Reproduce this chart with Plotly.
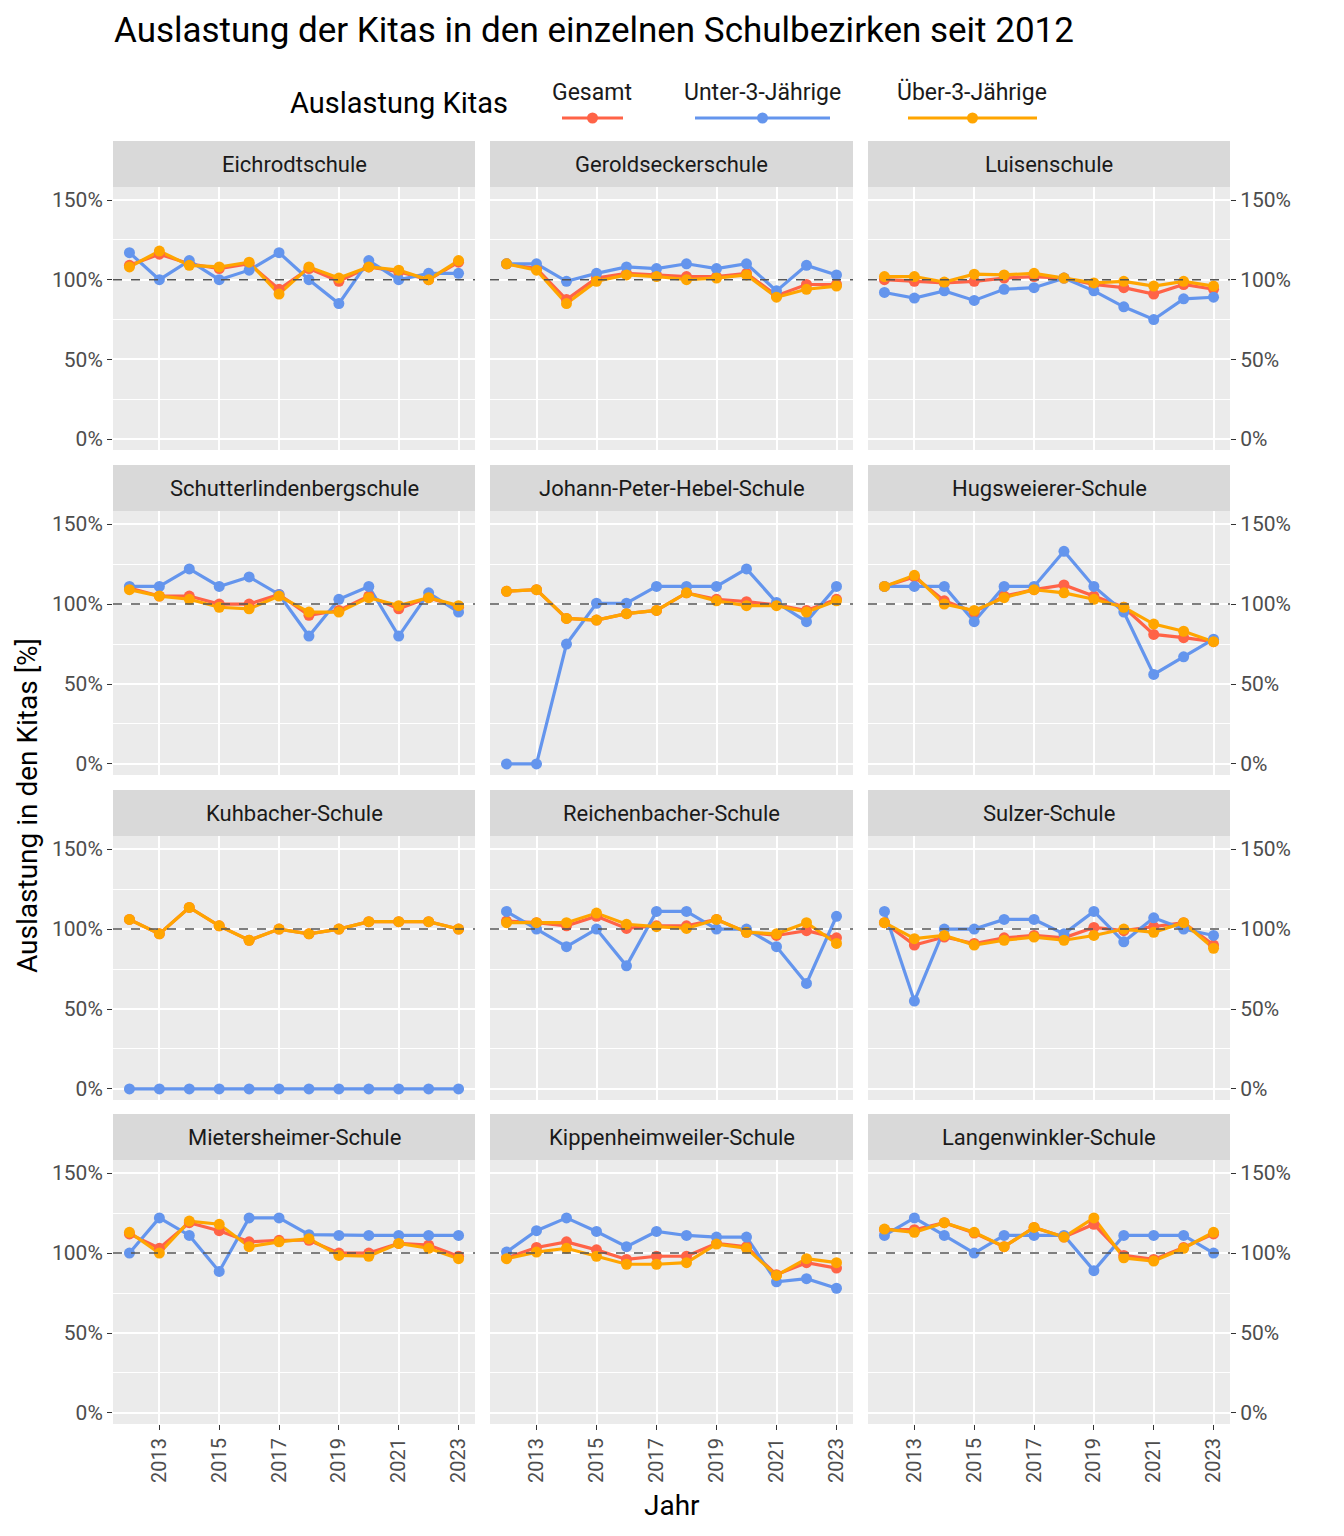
import plotly.graph_objects as go

years = list(range(2012, 2024))

schools = [
    "Eichrodtschule", "Geroldseckerschule", "Luisenschule",
    "Schutterlindenbergschule", "Johann-Peter-Hebel-Schule", "Hugsweierer-Schule",
    "Kuhbacher-Schule", "Reichenbacher-Schule", "Sulzer-Schule",
    "Mietersheimer-Schule", "Kippenheimweiler-Schule", "Langenwinkler-Schule",
]

gesamt = {
    "Eichrodtschule": [109, 116, 110, 107, 110, 94, 107, 99, 108, 105, 100, 111],
    "Geroldseckerschule": [110, 107, 87.5, 101, 104, 103, 102, 102, 104, 90, 97, 97],
    "Luisenschule": [100, 99, 98, 99, 101, 102, 101, 97, 95, 91, 97, 94],
    "Schutterlindenbergschule": [110, 105, 105, 100, 100, 106, 93, 96, 105, 97, 104, 98],
    "Johann-Peter-Hebel-Schule": [108, 109, 91, 90, 94, 96, 107, 103, 101.5, 99.5, 96, 103],
    "Hugsweierer-Schule": [111, 117, 102, 95, 105, 109, 112, 105, 98, 81, 79, 76.5],
    "Kuhbacher-Schule": [106, 97, 113.5, 102, 93, 100, 97, 100, 104.6, 104.6, 104.6, 100],
    "Reichenbacher-Schule": [105, 104, 102, 108, 100.4, 102, 102, 106, 98, 96, 99, 94.5],
    "Sulzer-Schule": [104, 90, 95, 91, 94.5, 96, 94.5, 101, 99, 101.5, 104, 90],
    "Mietersheimer-Schule": [112, 103, 119, 114, 107, 108, 108, 100, 100, 106, 105, 98],
    "Kippenheimweiler-Schule": [97, 103.5, 107, 102, 96, 98, 98, 106, 104, 86.5, 94, 90.6],
    "Langenwinkler-Schule": [114.6, 114.6, 119, 112.5, 104, 116, 110, 118, 98.5, 96, 103.5, 112],
}

unter3 = {
    "Eichrodtschule": [117, 100, 112, 100, 106, 117, 100, 85, 112, 100, 104, 104],
    "Geroldseckerschule": [110, 110, 99, 104, 108, 107, 110, 107, 110, 93, 109, 103],
    "Luisenschule": [92, 88.5, 93, 87, 94, 95, 101, 93, 83, 75, 88, 89],
    "Schutterlindenbergschule": [111, 111, 122, 111, 117, 106, 80, 103, 111, 80, 107, 95],
    "Johann-Peter-Hebel-Schule": [0, 0, 75, 100.5, 100.5, 111, 111, 111, 122, 101, 89, 111],
    "Hugsweierer-Schule": [111, 111, 111, 89, 111, 111, 133, 111, 95, 56, 67, 78],
    "Kuhbacher-Schule": [0, 0, 0, 0, 0, 0, 0, 0, 0, 0, 0, 0],
    "Reichenbacher-Schule": [111, 100, 89, 100, 77, 111, 111, 100, 100, 89, 66, 108],
    "Sulzer-Schule": [111, 55, 100, 100, 106, 106, 97, 111, 92, 107, 100, 96],
    "Mietersheimer-Schule": [100, 122, 111, 88.5, 122, 122, 111.5, 111, 111, 111, 111, 111],
    "Kippenheimweiler-Schule": [100.6, 114, 122, 113.5, 104, 113.5, 111, 110, 110, 82, 84, 78],
    "Langenwinkler-Schule": [111, 122, 111, 100, 111, 111, 111, 89, 111, 111, 111, 100],
}

ueber3 = {
    "Eichrodtschule": [108, 118, 109, 108, 111, 91, 108, 101, 108, 106, 100, 112],
    "Geroldseckerschule": [110, 106, 85, 99, 103, 102, 100, 101, 103, 89, 94, 96],
    "Luisenschule": [102, 102, 98.5, 103.5, 103, 104, 101, 98, 99, 96, 99, 96],
    "Schutterlindenbergschule": [109, 105, 103, 98, 97, 105, 95, 95, 104, 99, 104, 99],
    "Johann-Peter-Hebel-Schule": [108, 109, 91, 90, 94, 96, 107, 102, 99, 99, 95, 102],
    "Hugsweierer-Schule": [111, 118, 100, 96, 104, 109, 107, 103, 98, 87.5, 83, 76.5],
    "Kuhbacher-Schule": [106, 97, 113.5, 102, 93, 100, 97, 100, 104.6, 104.6, 104.6, 100],
    "Reichenbacher-Schule": [104, 104, 104, 110, 103, 101.5, 100.4, 106, 98, 97, 104, 91],
    "Sulzer-Schule": [104, 94, 96, 90, 93, 95, 93, 96, 100, 98, 104, 88],
    "Mietersheimer-Schule": [113, 100, 120, 118, 104, 107, 109, 98.5, 98, 106, 103, 96.5],
    "Kippenheimweiler-Schule": [96.5, 100.6, 103, 98, 93, 93, 94, 105.6, 103, 86, 96.5, 94],
    "Langenwinkler-Schule": [115, 113, 119, 113, 104, 116, 110, 122, 97, 95, 103, 113],
}

series_names = ["Gesamt", "Unter-3-Jährige", "Über-3-Jährige"]
series_colors = ["#FF6347", "#6495ED", "#FFA500"]
series_data = [gesamt, unter3, ueber3]

y_ticks = [0, 50, 100, 150]
y_tick_labels = ["0%", "50%", "100%", "150%"]
x_ticks = [2013, 2015, 2017, 2019, 2021, 2023]

W, H = 1344, 1536
FONT = "Roboto"
col_px = [(113, 475), (490, 853), (868, 1230)]
row_px = [(187, 450), (511, 775), (836, 1100), (1160, 1424)]
STRIP_H = 46

fig = go.Figure()
layout = dict(
    width=W, height=H,
    margin=dict(l=0, r=0, t=0, b=0),
    paper_bgcolor="white", plot_bgcolor="#EBEBEB",
    showlegend=False,
    font=dict(family=FONT, color="#1A1A1A"),
)
shapes = []
annotations = []

for i, school in enumerate(schools):
    r, c = divmod(i, 3)
    idx = i + 1
    xa = "xaxis" if idx == 1 else f"xaxis{idx}"
    ya = "yaxis" if idx == 1 else f"yaxis{idx}"
    xref = "x" if idx == 1 else f"x{idx}"
    yref = "y" if idx == 1 else f"y{idx}"
    x0, x1 = col_px[c]
    top, bot = row_px[r]
    layout[xa] = dict(
        domain=[x0 / W, x1 / W], anchor=yref, range=[2011.45, 2023.55],
        tickvals=x_ticks, ticktext=[str(v) for v in x_ticks],
        showticklabels=(r == 3), tickangle=-90,
        ticks="outside" if r == 3 else "", ticklen=5, tickcolor="#333333",
        tickfont=dict(size=20, color="#4D4D4D", family=FONT),
        showgrid=True, gridcolor="white", gridwidth=2,
        zeroline=False, showline=False, fixedrange=True,
    )
    layout[ya] = dict(
        domain=[(H - bot) / H, (H - top) / H], anchor=xref, range=[-6.9, 158.2],
        tickvals=y_ticks, ticktext=y_tick_labels,
        showticklabels=(c != 1), side="right" if c == 2 else "left",
        ticks="outside" if c != 1 else "", ticklen=5, tickcolor="#333333",
        tickfont=dict(size=21, color="#4D4D4D", family=FONT),
        showgrid=True, gridcolor="white", gridwidth=2,
        minor=dict(tickvals=[25, 75, 125], showgrid=True, gridcolor="white", gridwidth=1),
        zeroline=False, showline=False, fixedrange=True,
    )
    # strip
    shapes.append(dict(type="rect", xref="paper", yref="paper",
                       x0=x0 / W, x1=x1 / W, y0=(H - top) / H, y1=(H - top + STRIP_H) / H,
                       fillcolor="#D9D9D9", line=dict(width=0), layer="below"))
    annotations.append(dict(text=school, xref="paper", yref="paper",
                            x=(x0 + x1) / 2 / W, y=(H - top + STRIP_H / 2) / H,
                            showarrow=False, xanchor="center", yanchor="middle",
                            font=dict(size=22, color="#1A1A1A", family=FONT)))
    # reference line at 100%
    shapes.append(dict(type="line", xref=f"{xref} domain", yref=yref,
                       x0=0, x1=1, y0=100, y1=100,
                       line=dict(color="#555555", width=1.5, dash="dash"), layer="above"))

    for name, color, data in zip(series_names, series_colors, series_data):
        fig.add_trace(go.Scatter(x=years, y=data[school], mode="lines", name=name,
                                 line=dict(color=color, width=3.2),
                                 xaxis=xref, yaxis=yref, hoverinfo="skip"))
    for name, color, data in zip(series_names, series_colors, series_data):
        fig.add_trace(go.Scatter(x=years, y=data[school], mode="markers", name=name,
                                 marker=dict(color=color, size=11),
                                 xaxis=xref, yaxis=yref))

# title and axis titles
annotations.append(dict(text="Auslastung der Kitas in den einzelnen Schulbezirken seit 2012",
                        xref="paper", yref="paper", x=112 / W, y=(H - 30) / H,
                        xanchor="left", yanchor="middle", showarrow=False,
                        font=dict(size=35, color="black", family=FONT)))
annotations.append(dict(text="Jahr", xref="paper", yref="paper", x=672 / W, y=(H - 1505) / H,
                        xanchor="center", yanchor="middle", showarrow=False,
                        font=dict(size=28, color="black", family=FONT)))
annotations.append(dict(text="Auslastung in den Kitas [%]", xref="paper", yref="paper",
                        x=28 / W, y=(H - 806) / H, textangle=-90,
                        xanchor="center", yanchor="middle", showarrow=False,
                        font=dict(size=28, color="black", family=FONT)))

# legend (drawn manually, ggplot-style: label above key)
annotations.append(dict(text="Auslastung Kitas", xref="paper", yref="paper",
                        x=399 / W, y=(H - 103) / H, xanchor="center", yanchor="middle",
                        showarrow=False, font=dict(size=29, color="black", family=FONT)))
legend_keys = [(562, 623), (695, 830), (908, 1037)]
legend_label_x = [592, 762, 972]
for name, color, (k0, k1), lx in zip(series_names, series_colors, legend_keys, legend_label_x):
    cx = (k0 + k1) / 2
    annotations.append(dict(text=name, xref="paper", yref="paper",
                            x=lx / W, y=(H - 92) / H, xanchor="center", yanchor="middle",
                            showarrow=False, font=dict(size=23, color="#1A1A1A", family=FONT)))
    shapes.append(dict(type="line", xref="paper", yref="paper",
                       x0=k0 / W, x1=k1 / W, y0=(H - 118) / H, y1=(H - 118) / H,
                       line=dict(color=color, width=3.2)))
    shapes.append(dict(type="circle", xref="paper", yref="paper",
                       x0=(cx - 5.5) / W, x1=(cx + 5.5) / W,
                       y0=(H - 118 - 5.5) / H, y1=(H - 118 + 5.5) / H,
                       fillcolor=color, line=dict(width=0)))

layout["shapes"] = shapes
layout["annotations"] = annotations
fig.update_layout(**layout)
fig.write_html("out.html")
